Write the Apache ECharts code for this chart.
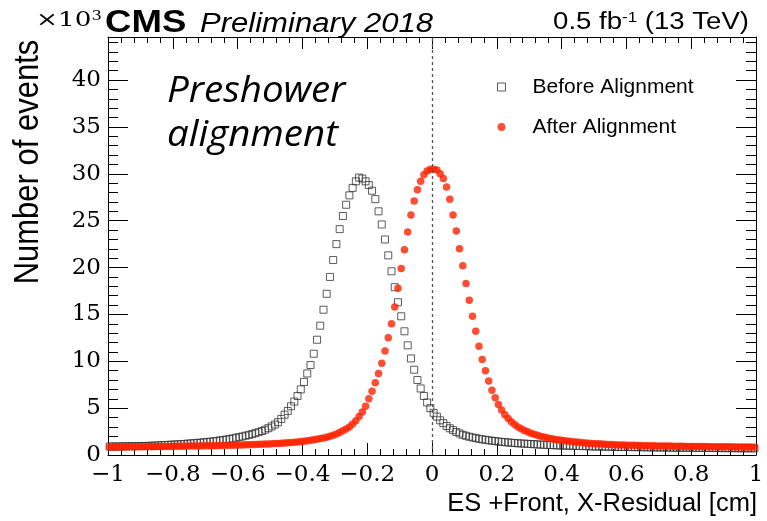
<!DOCTYPE html>
<html>
<head>
<meta charset="utf-8">
<script src="https://cdn.jsdelivr.net/npm/echarts@6/dist/echarts.min.js"></script>
<style>
html,body{margin:0;padding:0;background:#fff;}
#chart{width:767px;height:521px;}
</style>
</head>
<body>
<div id="chart"></div>
<script>
// ---- binning (bin width 0.01 cm, range -1 .. 1) ----
const xLow = -1;
const binWidth = 0.01;
const nBins = 200;
const binCenters = [];
for (let i = 0; i < nBins; i++) binCenters.push(+(xLow + binWidth * (i + 0.5)).toFixed(3));

// ---- series values, in units of 10^3 events ----
const beforeAlignment = [
0.90,0.91,0.90,0.92,0.93,0.92,0.94,0.95,0.94,0.96,0.97,0.96,0.98,0.99,1.01,1.03,1.04,1.06,1.08,1.10,
1.12,1.14,1.16,1.18,1.21,1.24,1.26,1.29,1.32,1.35,1.38,1.42,1.46,1.50,1.55,1.60,1.65,1.71,1.77,1.84,
1.91,1.98,2.06,2.14,2.23,2.33,2.44,2.56,2.70,2.86,
3.05,3.25,3.50,3.85,4.30,4.70,5.20,5.70,6.30,7.00,
7.80,8.70,9.60,10.8,12.3,13.8,15.5,17.2,19.0,20.8,
22.5,24.1,25.5,26.7,27.7,28.5,29.2,29.6,29.5,29.2,
28.8,28.2,27.3,26.0,24.6,23.0,21.3,19.6,17.9,16.3,
14.8,13.2,11.7,10.3,9.1,8.0,7.1,6.3,5.6,5.0,
4.5,4.1,3.7,3.4,3.1,2.85,2.65,2.45,2.30,2.15,
2.05,1.95,1.87,1.80,1.73,1.67,1.62,1.57,1.52,1.48,
1.44,1.40,1.37,1.34,1.31,1.28,1.25,1.23,1.21,1.19,
1.17,1.15,1.13,1.11,1.09,1.08,1.06,1.05,1.03,1.02,
1.01,1.00,0.99,0.98,0.97,0.96,0.95,0.94,0.93,0.92,
0.91,0.91,0.90,0.89,0.89,0.88,0.87,0.87,0.86,0.86,
0.85,0.85,0.84,0.84,0.83,0.83,0.82,0.82,0.81,0.81,
0.80,0.80,0.80,0.79,0.79,0.78,0.78,0.78,0.77,0.77,
0.77,0.76,0.76,0.76,0.75,0.75,0.75,0.74,0.74,0.74,
0.73,0.73,0.73,0.73,0.72,0.72,0.72,0.72,0.71,0.71
];
const afterAlignment = [
0.85,0.86,0.85,0.87,0.86,0.87,0.88,0.87,0.88,0.89,0.88,0.89,0.90,0.89,0.90,0.91,0.90,0.91,0.92,0.92,
0.93,0.93,0.94,0.94,0.95,0.95,0.96,0.96,0.97,0.98,0.98,0.99,1.00,1.00,1.01,1.02,1.03,1.04,1.05,1.06,
1.07,1.08,1.09,1.10,1.11,1.12,1.14,1.15,1.17,1.18,
1.20,1.22,1.24,1.26,1.28,1.31,1.34,1.37,1.40,1.44,
1.48,1.52,1.57,1.62,1.68,1.75,1.82,1.90,2.00,2.12,
2.25,2.40,2.58,2.78,3.00,3.30,3.65,4.10,4.60,5.20,
6.0,6.8,7.7,8.7,9.8,11.1,12.5,14.0,15.8,17.8,
19.9,21.9,23.8,25.6,27.1,28.3,29.2,29.9,30.3,30.5,
30.5,30.4,30.0,29.5,28.6,27.3,25.6,23.9,22.0,20.2,
18.3,16.5,14.8,13.2,11.6,10.2,9.0,7.9,6.9,6.1,
5.4,4.8,4.3,3.9,3.55,3.25,3.0,2.8,2.62,2.47,
2.33,2.21,2.10,2.00,1.92,1.84,1.77,1.70,1.64,1.59,
1.54,1.50,1.46,1.42,1.38,1.35,1.32,1.29,1.26,1.23,
1.21,1.19,1.17,1.15,1.13,1.11,1.10,1.08,1.07,1.06,
1.05,1.04,1.03,1.02,1.01,1.00,0.99,0.99,0.98,0.97,
0.97,0.96,0.95,0.95,0.94,0.94,0.93,0.93,0.92,0.92,
0.91,0.91,0.90,0.90,0.90,0.89,0.89,0.88,0.88,0.88,
0.87,0.87,0.87,0.86,0.86,0.86,0.85,0.85,0.85,0.84
];

// ---- axes / labels ----
const xRange = [-1, 1];
const xTickStep = 0.2;
const yRange = [0, 44.6];
const yTickStep = 5;
const seriesNames = ['Before Alignment', 'After Alignment'];
const xTitle = 'ES +Front, X-Residual [cm]';
const yTitle = 'Number of events';

const serif = '"DejaVu Serif", "Liberation Serif", serif';
const sans = '"Liberation Sans", Arial, sans-serif';

function fmtX(v) {
  const r = Math.round(v * 10) / 10;
  return String(r).replace('-', '\u2212');
}
function fmtY(v) {
  return (Math.abs(v % 5) < 1e-6) ? String(Math.round(v)) : '';
}

const chart = echarts.init(document.getElementById('chart'), null, {renderer: 'canvas'});

const axisLineStyle = {show: true, onZero: false, lineStyle: {color: '#000', width: 1}};
function xAxisDef(pos, showLabel) {
  return {
    type: 'value', position: pos, min: xRange[0], max: xRange[1], interval: xTickStep,
    axisLine: axisLineStyle,
    axisTick: {show: true, inside: true, length: 12, lineStyle: {color: '#000'}},
    minorTick: {show: true, splitNumber: 5, length: 6, lineStyle: {color: '#000'}},
    splitLine: {show: false}, minorSplitLine: {show: false},
    axisLabel: {show: showLabel, formatter: fmtX, fontFamily: serif, fontSize: 23, color: '#000', margin: 9}
  };
}
function yAxisDef(pos, showLabel) {
  return {
    type: 'value', position: pos, min: yRange[0], max: yRange[1], interval: yTickStep,
    axisLine: axisLineStyle,
    axisTick: {show: true, inside: true, length: 20, lineStyle: {color: '#000'}},
    minorTick: {show: true, splitNumber: 5, length: 10, lineStyle: {color: '#000'}},
    splitLine: {show: false}, minorSplitLine: {show: false},
    axisLabel: {show: showLabel, formatter: fmtY, fontFamily: serif, fontSize: 23, color: '#000', margin: 7, showMaxLabel: false}
  };
}

const option = {
  backgroundColor: '#fff',
  animation: false,
  grid: {left: 108, right: 11, top: 37, bottom: 66, containLabel: false},
  xAxis: [xAxisDef('bottom', true), xAxisDef('top', false)],
  yAxis: [yAxisDef('left', true), yAxisDef('right', false)],
  legend: {
    orient: 'vertical', left: 492, top: 71,
    itemWidth: 8, itemHeight: 8, itemGap: 18,
    textStyle: {fontFamily: sans, fontSize: 21, color: '#000', lineHeight: 22, padding: [0, 0, 0, 22]},
    data: [
      {name: seriesNames[0], icon: 'rect', itemStyle: {color: '#fff', borderColor: '#333', borderWidth: 1}},
      {name: seriesNames[1], icon: 'circle'}
    ]
  },
  series: [
    {
      name: seriesNames[0], type: 'scatter', xAxisIndex: 0, yAxisIndex: 0,
      symbol: 'rect', symbolSize: 7,
      itemStyle: {color: 'rgba(255,255,255,0)', borderColor: '#333', borderWidth: 1},
      data: binCenters.map((x, i) => [x, beforeAlignment[i]]),
      z: 2,
      markLine: {
        silent: true, symbol: ['none', 'none'], label: {show: false},
        lineStyle: {color: '#555', width: 1.3, type: [3, 3]},
        data: [{xAxis: 0}]
      }
    },
    {
      name: seriesNames[1], type: 'scatter', xAxisIndex: 0, yAxisIndex: 0,
      symbol: 'circle', symbolSize: 7.5,
      itemStyle: {color: '#ff2200'},
      data: binCenters.map((x, i) => [x, afterAlignment[i]]),
      z: 3
    }
  ],
  graphic: [
    {type: 'text', x: 36, y: 10, scaleX: 1.25, style: {
      text: '\u00d710{s|3}', font: '21px ' + serif, fill: '#000',
      rich: {s: {fontSize: 13, fontFamily: serif, verticalAlign: 'top', fill: '#000'}}
    }},
    {type: 'text', x: 105, y: 23, scaleX: 1.18, style: {
      text: 'CMS', font: 'bold 31px ' + sans, fill: '#000', textVerticalAlign: 'middle'
    }},
    {type: 'text', x: 200, y: 24, scaleX: 1.15, style: {
      text: 'Preliminary 2018', font: 'italic 27px ' + sans, fill: '#000', textVerticalAlign: 'middle'
    }},
    {type: 'text', x: 749, y: 23, scaleX: 1.2, style: {
      text: '0.5 fb{s|-1} (13 TeV)', font: '23px ' + sans, fill: '#000', textAlign: 'right', textVerticalAlign: 'middle',
      rich: {s: {fontSize: 14, fontFamily: sans, verticalAlign: 'top', fill: '#000'}}
    }},
    {type: 'text', x: 28, y: 162, rotation: Math.PI / 2, scaleY: 1.15, style: {
      text: yTitle, font: '31px ' + sans, fill: '#000', textAlign: 'center', textVerticalAlign: 'middle'
    }},
    {type: 'text', x: 757, y: 504, style: {
      text: xTitle, font: '25.5px ' + sans, fill: '#000', textAlign: 'right', textVerticalAlign: 'middle'
    }},
    {type: 'text', x: 167, y: 110, scaleX: 1.04, style: {
      text: 'Preshower', font: 'italic 37px "Open Sans", Lato, sans-serif', fill: '#000', textVerticalAlign: 'bottom'
    }},
    {type: 'text', x: 167, y: 154, scaleX: 1.04, style: {
      text: 'alignment', font: 'italic 37px "Open Sans", Lato, sans-serif', fill: '#000', textVerticalAlign: 'bottom'
    }}
  ]
};
chart.setOption(option);
</script>
</body>
</html>
